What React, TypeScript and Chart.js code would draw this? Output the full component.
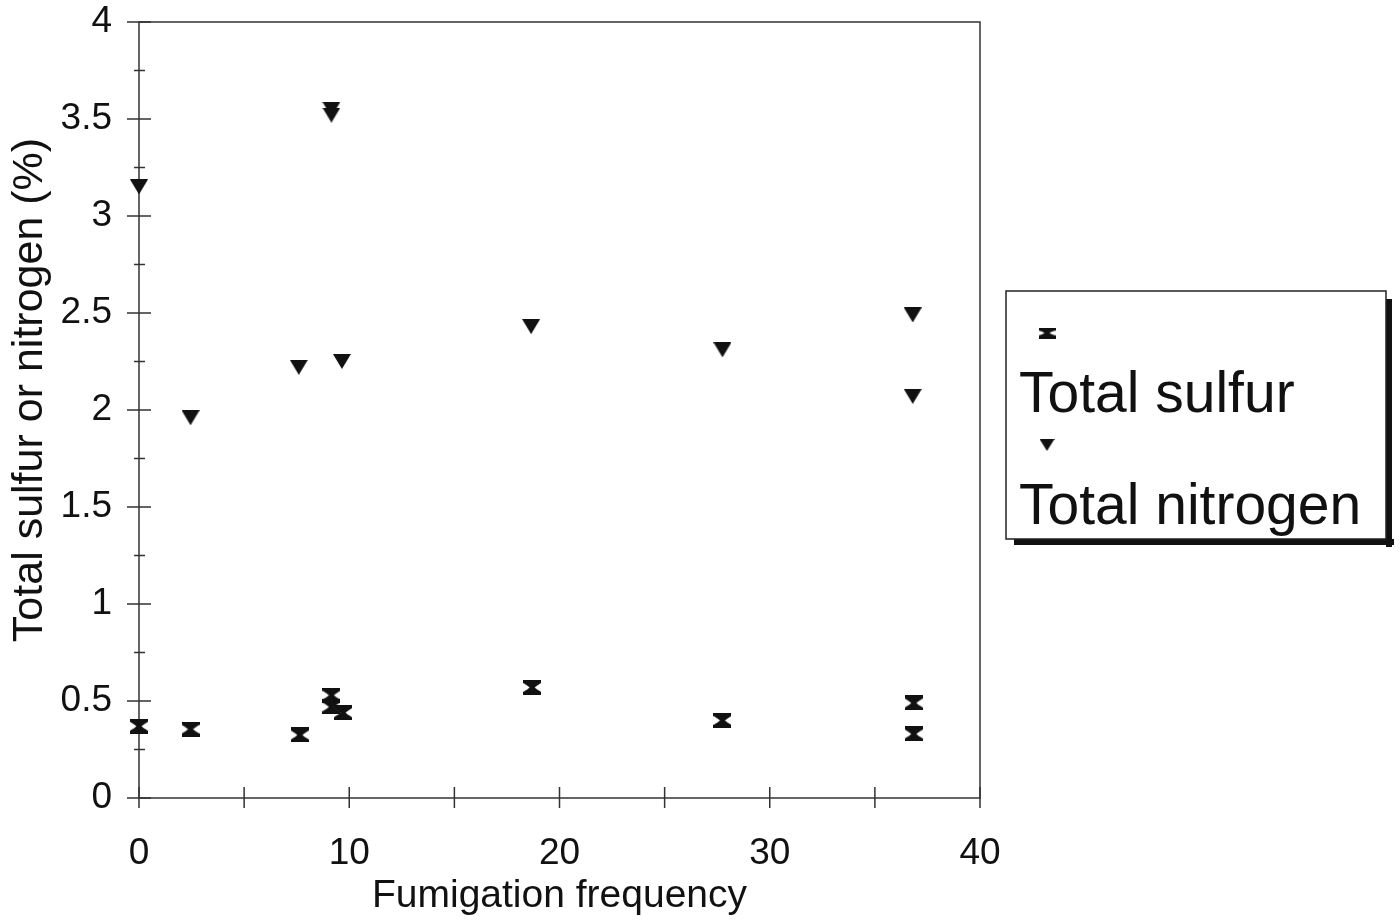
import React, { useEffect, useRef } from "react";
import { Chart, registerables } from "chart.js";

Chart.register(...registerables);

// ---- data ----
const sulfurX = [0, 2.45, 7.65, 9.15, 9.15, 9.7, 18.7, 27.75, 36.85, 36.85];
const sulfurY = [0.37, 0.355, 0.325, 0.53, 0.47, 0.44, 0.57, 0.4, 0.49, 0.33];
const nitrogenX = [0, 2.45, 7.6, 9.15, 9.15, 9.65, 18.65, 27.75, 36.8, 36.8];
const nitrogenY = [3.15, 1.96, 2.22, 3.55, 3.52, 2.25, 2.43, 2.31, 2.49, 2.07];
const seriesNames = ["Total sulfur", "Total nitrogen"];
const xTitle = "Fumigation frequency";
const yTitle = "Total sulfur or nitrogen (%)";
const xRange = [0, 40];
const yRange = [0, 4];
const xStep = 10;
const yStep = 0.5;

const FONT = "'Liberation Sans', Arial, Helvetica, sans-serif";
const INK = "#111";

function makeHourglass(w: number, h: number, bar: number) {
  const c = document.createElement("canvas");
  c.width = w;
  c.height = h;
  const g = c.getContext("2d")!;
  g.fillStyle = INK;
  g.beginPath();
  g.moveTo(0, 0);
  g.lineTo(w, 0);
  g.lineTo(w, bar);
  g.quadraticCurveTo(w * 0.72, h * 0.4, w / 2 + 2.5, h / 2);
  g.quadraticCurveTo(w * 0.72, h * 0.6, w, h - bar);
  g.lineTo(w, h);
  g.lineTo(0, h);
  g.lineTo(0, h - bar);
  g.quadraticCurveTo(w * 0.28, h * 0.6, w / 2 - 2.5, h / 2);
  g.quadraticCurveTo(w * 0.28, h * 0.4, 0, bar);
  g.closePath();
  g.fill();
  return c;
}

function makeTriangleDown(w: number, h: number) {
  const c = document.createElement("canvas");
  c.width = w;
  c.height = h;
  const g = c.getContext("2d")!;
  g.fillStyle = INK;
  g.beginPath();
  g.moveTo(0, 0);
  g.lineTo(w, 0);
  g.lineTo(w / 2, h);
  g.closePath();
  g.fill();
  return c;
}

export default function App() {
  const ref = useRef<HTMLCanvasElement | null>(null);

  useEffect(() => {
    if (!ref.current) return;
    const hourglass = makeHourglass(18, 15, 3);
    const triangle = makeTriangleDown(18, 15);
    const legendHourglass = makeHourglass(17, 11, 3);
    const legendTriangle = makeTriangleDown(15, 12);

    const axesPlugin = {
      id: "axesDraw",
      beforeDatasetsDraw(chart: any) {
        const { ctx, chartArea } = chart;
        const { left, right, top, bottom } = chartArea;
        const xs = chart.scales.x;
        const ys = chart.scales.y;
        ctx.save();
        ctx.strokeStyle = "#333";
        ctx.lineWidth = 1.5;
        ctx.strokeRect(left, top, right - left, bottom - top);
        ctx.beginPath();
        for (let v = yRange[0]; v <= yRange[1] + 1e-9; v += yStep / 2) {
          const p = ys.getPixelForValue(v);
          const major = Math.abs(v / yStep - Math.round(v / yStep)) < 1e-6;
          if (major) {
            ctx.moveTo(left - 12, p);
            ctx.lineTo(left + 12, p);
          } else {
            ctx.moveTo(left - 5, p);
            ctx.lineTo(left + 6, p);
          }
        }
        for (let v = xRange[0]; v <= xRange[1] + 1e-9; v += xStep / 2) {
          const p = xs.getPixelForValue(v);
          ctx.moveTo(p, bottom - 11);
          ctx.lineTo(p, bottom + 10);
        }
        ctx.stroke();
        // y-axis title
        ctx.translate(30, (top + bottom) / 2 - 20);
        ctx.rotate(-Math.PI / 2);
        ctx.fillStyle = INK;
        ctx.font = `43px ${FONT}`;
        ctx.textAlign = "center";
        ctx.textBaseline = "middle";
        ctx.fillText(yTitle, 0, 0);
        ctx.restore();
      },
      afterDraw(chart: any) {
        const { ctx } = chart;
        ctx.save();
        const L = 1006, T = 291, R = 1386, B = 539;
        // shadow
        ctx.fillStyle = "#111";
        ctx.fillRect(R, T + 8, 6, B - T);
        ctx.fillRect(L + 8, B, R - L, 6);
        ctx.fillStyle = "#fff";
        ctx.fillRect(L, T, R - L, B - T);
        ctx.strokeStyle = "#222";
        ctx.lineWidth = 1.5;
        ctx.strokeRect(L, T, R - L, B - T);
        ctx.drawImage(legendHourglass, 1047 - legendHourglass.width / 2, 333 - legendHourglass.height / 2);
        ctx.drawImage(legendTriangle, 1047 - legendTriangle.width / 2, 445 - legendTriangle.height / 2);
        ctx.fillStyle = INK;
        ctx.font = `57px ${FONT}`;
        ctx.textAlign = "left";
        ctx.textBaseline = "alphabetic";
        ctx.fillText(seriesNames[0], 1019, 412);
        ctx.fillText(seriesNames[1], 1019, 524);
        ctx.restore();
      },
    };

    const chart = new Chart(ref.current, {
      type: "scatter",
      data: {
        datasets: [
          {
            label: seriesNames[0],
            data: sulfurX.map((x, i) => ({ x, y: sulfurY[i] })),
            pointStyle: hourglass as any,
            pointRadius: 8,
            backgroundColor: INK,
            borderColor: INK,
            clip: false,
          } as any,
          {
            label: seriesNames[1],
            data: nitrogenX.map((x, i) => ({ x, y: nitrogenY[i] })),
            pointStyle: triangle as any,
            pointRadius: 8,
            backgroundColor: INK,
            borderColor: INK,
            clip: false,
          } as any,
        ],
      },
      options: {
        animation: false,
        responsive: false,
        devicePixelRatio: 1,
        layout: { padding: { top: 22, right: 420, left: 0, bottom: 0 } },
        plugins: { legend: { display: false }, tooltip: { enabled: false } },
        scales: {
          x: {
            type: "linear",
            min: xRange[0],
            max: xRange[1],
            grid: { display: false, drawTicks: false },
            border: { display: false },
            ticks: {
              stepSize: xStep,
              color: INK,
              padding: 34,
              font: { size: 37, family: FONT },
              maxRotation: 0,
            },
            title: {
              display: true,
              text: xTitle,
              color: INK,
              font: { size: 39, family: FONT },
              padding: { top: 0, bottom: 0 },
            },
            afterFit: (s: any) => {
              s.height = 122;
              s.paddingLeft = 0;
              s.paddingRight = 0;
            },
          },
          y: {
            type: "linear",
            min: yRange[0],
            max: yRange[1],
            grid: { display: false, drawTicks: false },
            border: { display: false },
            ticks: {
              stepSize: yStep,
              color: INK,
              padding: 27,
              font: { size: 37, family: FONT },
              callback: (v: any) => String(Number(v)),
            },
            title: { display: false },
            afterFit: (s: any) => {
              s.width = 139;
              s.paddingTop = 0;
              s.paddingBottom = 0;
            },
          },
        },
      },
      plugins: [axesPlugin],
    });
    return () => chart.destroy();
  }, []);

  return (
    <div style={{ position: "absolute", left: 0, top: 0, width: 1400, height: 920, background: "#fff" }}>
      <canvas ref={ref} width={1400} height={920} style={{ display: "block", width: 1400, height: 920 }} />
    </div>
  );
}
